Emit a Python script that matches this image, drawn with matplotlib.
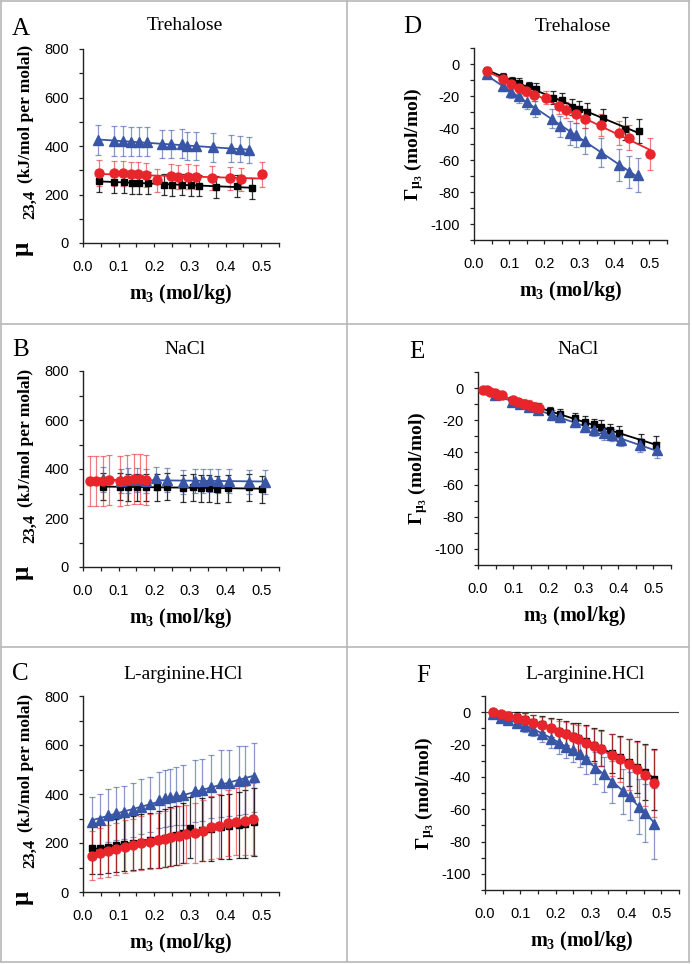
import numpy as np
import matplotlib
matplotlib.use("Agg")
import matplotlib.pyplot as plt
from matplotlib.lines import Line2D
from matplotlib.ticker import MultipleLocator

plt.rcParams['font.family'] = ['Liberation Sans', 'DejaVu Sans']
plt.rcParams['axes.unicode_minus'] = False
plt.rcParams['mathtext.fontset'] = 'custom'
plt.rcParams['mathtext.rm'] = 'Liberation Serif:bold'
plt.rcParams['mathtext.it'] = 'Liberation Serif:bold'
plt.rcParams['mathtext.bf'] = 'Liberation Serif:bold'

# ---- A: Trehalose, mu23,4 ----
a_blk_m = [0.045, 0.088, 0.114, 0.138, 0.158, 0.181, 0.227, 0.251, 0.279, 0.302, 0.325, 0.372, 0.432, 0.473]
a_blk_v = [255, 252, 250, 248, 247, 246, 241, 240, 241, 239, 237, 232, 236, 225]
a_blk_e = [45, 45, 45, 45, 45, 45, 45, 45, 45, 45, 45, 45, 45, 42]
a_red_m = [0.044, 0.088, 0.112, 0.134, 0.153, 0.176, 0.207, 0.246, 0.267, 0.295, 0.318, 0.362, 0.412, 0.443, 0.503]
a_red_v = [289, 287, 287, 284, 283, 281, 259, 275, 272, 274, 271, 268, 266, 263, 283]
a_red_e = [55, 50, 52, 50, 50, 50, 48, 50, 50, 50, 50, 50, 48, 48, 52]
a_blu_m = [0.042, 0.088, 0.112, 0.134, 0.156, 0.179, 0.222, 0.247, 0.277, 0.293, 0.318, 0.365, 0.416, 0.441, 0.465]
a_blu_v = [424, 421, 421, 417, 417, 417, 407, 407, 410, 399, 399, 394, 390, 387, 383]
a_blu_e = [62, 62, 62, 60, 60, 60, 58, 58, 60, 57, 57, 58, 55, 55, 55]

# ---- D: Trehalose, Gamma ----
d_blk_m = [0.038, 0.082, 0.108, 0.129, 0.156, 0.177, 0.224, 0.251, 0.279, 0.300, 0.321, 0.367, 0.430, 0.470]
d_blk_v = [-4.1, -8.3, -10.4, -12.0, -14.0, -15.5, -21.0, -22.8, -27.0, -28.0, -30.0, -34.0, -40.4, -42.0]
d_blk_e = [2, 2.5, 2.5, 3, 3, 3.5, 4, 4.5, 5, 5, 5.5, 6, 7, 7.5]
d_red_m = [0.038, 0.082, 0.105, 0.129, 0.148, 0.172, 0.205, 0.243, 0.262, 0.291, 0.315, 0.362, 0.413, 0.441, 0.502]
d_red_v = [-4.1, -9.3, -12.4, -14.9, -16.6, -19.3, -21.0, -26.5, -28.6, -31.5, -34.2, -38.3, -43.0, -46.0, -56.0]
d_red_e = [2, 2.5, 3, 3, 3.5, 4, 4, 5, 5, 5.5, 6, 7, 7.5, 8, 10]
d_blu_m = [0.038, 0.082, 0.105, 0.127, 0.151, 0.175, 0.221, 0.246, 0.274, 0.291, 0.316, 0.363, 0.414, 0.441, 0.467]
d_blu_v = [-6.2, -14.0, -17.6, -20.3, -23.8, -28.0, -34.2, -39.0, -43.0, -44.5, -48.2, -55.5, -63.1, -67.3, -69.4]
d_blu_e = [2, 3, 3.5, 4, 4.5, 5, 6, 6.5, 7.5, 7.5, 8, 9, 10, 10, 10.5]

# ---- B: NaCl, mu23,4 ----
b_blk_m = [0.055, 0.103, 0.127, 0.152, 0.176, 0.208, 0.235, 0.280, 0.310, 0.332, 0.353, 0.376, 0.406, 0.466, 0.502]
b_blk_v = [328, 328, 326, 326, 326, 326, 328, 322, 325, 322, 322, 318, 322, 325, 318]
b_blk_e = [55, 55, 55, 55, 55, 55, 55, 55, 55, 55, 55, 55, 55, 55, 55]
b_red_m = [0.020, 0.036, 0.055, 0.073, 0.105, 0.124, 0.143, 0.161, 0.178]
b_red_v = [350, 350, 352, 356, 352, 355, 358, 358, 356]
b_red_e = [102, 102, 102, 102, 102, 102, 102, 102, 102]
b_blu_m = [0.055, 0.108, 0.127, 0.152, 0.178, 0.206, 0.235, 0.280, 0.313, 0.336, 0.357, 0.380, 0.410, 0.466, 0.511]
b_blu_v = [358, 351, 354, 355, 352, 362, 355, 348, 351, 352, 354, 352, 352, 348, 348]
b_blu_e = [50, 50, 50, 50, 50, 48, 48, 48, 48, 48, 48, 48, 48, 48, 48]

# ---- E: NaCl, Gamma ----
e_blk_m = [0.096, 0.134, 0.172, 0.206, 0.234, 0.277, 0.306, 0.330, 0.351, 0.377, 0.403, 0.465, 0.506]
e_blk_v = [-7.5, -9.9, -12.0, -14.1, -16.1, -18.8, -20.9, -22.6, -24.0, -26.1, -28.2, -33.3, -35.4]
e_blk_e = [2, 2, 2.5, 2.5, 3, 3, 3.5, 3.5, 4, 4, 4.5, 5, 5.5]
e_red_m = [0.015, 0.025, 0.035, 0.048, 0.058, 0.068, 0.100, 0.115, 0.130, 0.145, 0.160, 0.175]
e_red_v = [-1.0, -1.5, -2.3, -3.2, -4.0, -4.6, -7.5, -8.5, -9.6, -10.6, -11.5, -12.5]
e_red_e = [1, 1, 1.5, 1.5, 2, 2, 2.5, 2.5, 3, 3, 3, 3.5]
e_blu_m = [0.049, 0.098, 0.120, 0.144, 0.172, 0.210, 0.234, 0.275, 0.306, 0.331, 0.358, 0.382, 0.408, 0.463, 0.510]
e_blu_v = [-4.3, -8.5, -9.9, -11.6, -13.7, -16.8, -17.8, -20.9, -24.0, -26.1, -28.2, -29.2, -32.3, -35.4, -38.5]
e_blu_e = [1.5, 2, 2, 2.5, 2.5, 3, 3, 3, 3.5, 3.5, 4, 4, 4, 4.5, 5]

# ---- C: L-arginine.HCl, mu23,4 ----
c_blk_m = [0.024, 0.047, 0.071, 0.094, 0.115, 0.141, 0.164, 0.187, 0.213, 0.229, 0.243, 0.262, 0.282, 0.300, 0.334, 0.359, 0.387, 0.409, 0.437, 0.455, 0.480]
c_blk_v = [178, 180, 185, 190, 195, 200, 205, 212, 215, 220, 225, 232, 240, 262, 255, 258, 265, 268, 275, 278, 285]
c_blk_e = [105, 105, 108, 108, 110, 110, 112, 112, 115, 118, 120, 120, 122, 125, 128, 130, 132, 132, 135, 138, 140]
c_red_m = [0.024, 0.047, 0.071, 0.094, 0.117, 0.141, 0.164, 0.187, 0.210, 0.229, 0.247, 0.268, 0.289, 0.313, 0.336, 0.359, 0.383, 0.406, 0.430, 0.455, 0.478]
c_red_v = [148, 158, 167, 175, 185, 192, 199, 205, 212, 216, 223, 230, 237, 242, 250, 264, 269, 283, 287, 291, 298]
c_red_e = [100, 102, 105, 105, 108, 108, 110, 112, 112, 115, 118, 120, 120, 122, 125, 128, 130, 135, 138, 140, 145]
c_blu_m = [0.024, 0.047, 0.071, 0.094, 0.115, 0.141, 0.164, 0.187, 0.213, 0.229, 0.243, 0.262, 0.282, 0.313, 0.334, 0.359, 0.387, 0.409, 0.437, 0.455, 0.480]
c_blu_v = [287, 294, 314, 321, 325, 335, 348, 358, 375, 382, 386, 392, 396, 412, 416, 430, 443, 446, 454, 457, 468]
c_blu_e = [100, 105, 108, 108, 108, 110, 112, 112, 115, 118, 118, 120, 122, 125, 125, 128, 135, 135, 140, 140, 142]

# ---- F: L-arginine.HCl, Gamma ----
f_blk_m = [0.022, 0.045, 0.066, 0.090, 0.114, 0.137, 0.161, 0.187, 0.211, 0.230, 0.249, 0.265, 0.287, 0.308, 0.329, 0.360, 0.384, 0.407, 0.431, 0.454, 0.478]
f_blk_v = [0, -1.0, -2.0, -3.0, -4.5, -6.0, -7.5, -9.5, -11.5, -13.0, -14.5, -16.0, -18.0, -20.0, -22.0, -25.5, -28.0, -31.0, -34.0, -37.0, -41.5]
f_blk_e = [1, 1.5, 2, 3, 4, 4.5, 5, 6, 7, 7.5, 8, 9, 10, 10.5, 11, 12, 13, 14.5, 16, 17.5, 19]
f_red_m = [0.022, 0.045, 0.066, 0.090, 0.114, 0.137, 0.161, 0.187, 0.211, 0.230, 0.249, 0.265, 0.287, 0.308, 0.329, 0.360, 0.384, 0.407, 0.431, 0.454, 0.478]
f_red_v = [0.2, -1.2, -2.3, -3.3, -4.8, -6.4, -8.1, -10.1, -12.2, -13.7, -15.1, -16.8, -18.8, -20.9, -22.5, -26.7, -29.2, -32.3, -35.4, -39.1, -44.1]
f_red_e = [1, 1.5, 2, 3, 4, 4.5, 5, 6, 7, 7.5, 8, 9, 10, 10.5, 11, 13, 14, 16, 17, 19, 21]
f_blu_m = [0.022, 0.045, 0.066, 0.090, 0.114, 0.137, 0.161, 0.187, 0.211, 0.230, 0.249, 0.268, 0.287, 0.313, 0.336, 0.360, 0.391, 0.412, 0.436, 0.454, 0.480]
f_blu_v = [-1.2, -3.3, -4.8, -6.8, -8.5, -11.0, -13.7, -16.4, -19.3, -21.3, -23.4, -26.1, -29.2, -34.4, -38.5, -43.3, -48.9, -52.0, -58.6, -62.3, -68.9]
f_blu_e = [1, 1.5, 2, 3, 3.5, 4, 5, 5.5, 6.5, 7, 7.5, 8, 9, 10, 11, 13, 14, 15, 17, 18, 22]

BLK = '#000000'
RED = '#e8252b'
BLU = '#3956a6'
W, H = 692, 964

fig = plt.figure(figsize=(W / 100, H / 100), dpi=100)

def px_axes(x0, x1, y0, y1):
    # pixel box (left, right, top, bottom) -> axes
    return fig.add_axes([x0 / W, 1 - y1 / H, (x1 - x0) / W, (y1 - y0) / H])

def series(ax, m, v, e, col, mk, ms, deg):
    m = np.array(m); v = np.array(v)
    a = 0.8 if col == BLK else 0.6
    ax.errorbar(m, v, yerr=e, fmt='none', ecolor=col, alpha=a, capsize=2.4,
                elinewidth=0.9, capthick=0.9, zorder=2)
    xs = np.linspace(m.min(), m.max(), 100)
    ax.plot(xs, np.polyval(np.polyfit(m, v, deg), xs), color=col, lw=1.3, zorder=3)
    ax.plot(m, v, ls='none', marker=mk, ms=ms, color=col, mec=col, zorder=4)

def ptext(x, y, s, size, **kw):
    fig.text(x / W, 1 - y / H, s, family='Liberation Serif', fontsize=size, **kw)

def style(ax, mu, ybot):
    for s in ['top', 'right']:
        ax.spines[s].set_visible(False)
    for s in ['left', 'bottom']:
        ax.spines[s].set_linewidth(1.0)
        ax.spines[s].set_color('#222222')
    ax.set_xlim(0, 0.55)
    ax.set_xticks([0.0, 0.1, 0.2, 0.3, 0.4, 0.5])
    ax.set_xticklabels(['0.0', '0.1', '0.2', '0.3', '0.4', '0.5'])
    ax.xaxis.set_minor_locator(MultipleLocator(0.05))
    if mu:
        ax.set_ylim(0, 800)
        ax.set_yticks([0, 200, 400, 600, 800])
        ax.yaxis.set_minor_locator(MultipleLocator(100))
        # y label built from pieces: big mu, big subscript, units
        rot = dict(rotation=90, rotation_mode='anchor', ha='left', va='baseline', fontweight='bold')
        ptext(29, ybot + 13, 'μ', 18, **rot)
        ptext(34, ybot - 24, '23,4', 12, **rot)
        ptext(30, ybot - 60, '(kJ/mol per molal)', 12.5, **rot)
    else:
        ax.set_ylim(-110, 10)
        ax.set_yticks([0, -20, -40, -60, -80, -100])
        ax.yaxis.set_minor_locator(MultipleLocator(10))
        ax.set_ylabel(r'Γ$_{\mu_3}$ (mol/mol)', family='Liberation Serif',
                      fontweight='bold', fontsize=14, labelpad=3)
    ax.tick_params(axis='both', which='both', direction='out', length=3.2, width=0.9,
                   labelsize=10.5, color='#222222')
    ax.tick_params(axis='x', which='both', pad=9)
    ax.tick_params(axis='y', which='both', pad=7)
    ax.set_xlabel(r'm$_3$ (mol/kg)', family='Liberation Serif', fontweight='bold',
                  fontsize=14.5, labelpad=6)

def label(x, y, s, size, ha='left'):
    ptext(x, y, s, size, ha=ha, va='baseline')

# panel A
ax = px_axes(83, 279, 49, 243)
series(ax, a_blk_m, a_blk_v, a_blk_e, BLK, 's', 5, 1)
series(ax, a_blu_m, a_blu_v, a_blu_e, BLU, '^', 6.5, 1)
series(ax, a_red_m, a_red_v, a_red_e, RED, 'o', 6.5, 1)
style(ax, True, 243)
label(12, 35, 'A', 18)
label(185, 30, 'Trehalose', 14, 'center')

# panel D
ax = px_axes(474, 667, 48, 240)
series(ax, d_blk_m, d_blk_v, d_blk_e, BLK, 's', 5, 1)
series(ax, d_blu_m, d_blu_v, d_blu_e, BLU, '^', 6.5, 1)
series(ax, d_red_m, d_red_v, d_red_e, RED, 'o', 6.5, 1)
style(ax, False, 240)
label(403, 33, 'D', 18)
label(573, 31, 'Trehalose', 14, 'center')

# panel B
ax = px_axes(83, 279, 371, 567)
series(ax, b_blk_m, b_blk_v, b_blk_e, BLK, 's', 5, 1)
series(ax, b_blu_m, b_blu_v, b_blu_e, BLU, '^', 6.5, 1)
series(ax, b_red_m, b_red_v, b_red_e, RED, 'o', 6.5, 1)
style(ax, True, 567)
label(12, 356, 'B', 18)
label(185, 354, 'NaCl', 14, 'center')

# panel E
ax = px_axes(478, 671, 372, 565)
series(ax, e_blk_m, e_blk_v, e_blk_e, BLK, 's', 5, 1)
series(ax, e_blu_m, e_blu_v, e_blu_e, BLU, '^', 6.5, 1)
series(ax, e_red_m, e_red_v, e_red_e, RED, 'o', 6.5, 1)
style(ax, False, 565)
label(409, 358, 'E', 18)
label(578, 354, 'NaCl', 14, 'center')

# panel C
ax = px_axes(83, 279, 696, 892)
series(ax, c_blu_m, c_blu_v, c_blu_e, BLU, '^', 6.5, 1)
series(ax, c_blk_m, c_blk_v, c_blk_e, BLK, 's', 5, 1)
series(ax, c_red_m, c_red_v, c_red_e, RED, 'o', 6.5, 1)
style(ax, True, 892)
label(12, 680, 'C', 18)
label(183, 679, 'L-arginine.HCl', 14, 'center')

# panel F
ax = px_axes(485, 679, 696, 890)
ax.axhline(0, color='#444444', lw=0.8, zorder=1)
series(ax, f_blu_m, f_blu_v, f_blu_e, BLU, '^', 6.5, 2)
series(ax, f_blk_m, f_blk_v, f_blk_e, BLK, 's', 5, 2)
series(ax, f_red_m, f_red_v, f_red_e, RED, 'o', 6.5, 2)
style(ax, False, 890)
label(416, 682, 'F', 18)
label(585, 679, 'L-arginine.HCl', 14, 'center')

# cell borders
gc = '#b8b8b8'
for (x0, y0, x1, y1) in [(1, 1, 689, 1), (1, 962, 689, 962), (1, 1, 1, 962), (689, 1, 689, 962),
                         (347, 1, 347, 962), (1, 324, 689, 324), (1, 647, 689, 647)]:
    fig.add_artist(Line2D([x0 / W, x1 / W], [1 - y0 / H, 1 - y1 / H], color=gc, lw=1.2))

fig.savefig('out.png', dpi=100)
